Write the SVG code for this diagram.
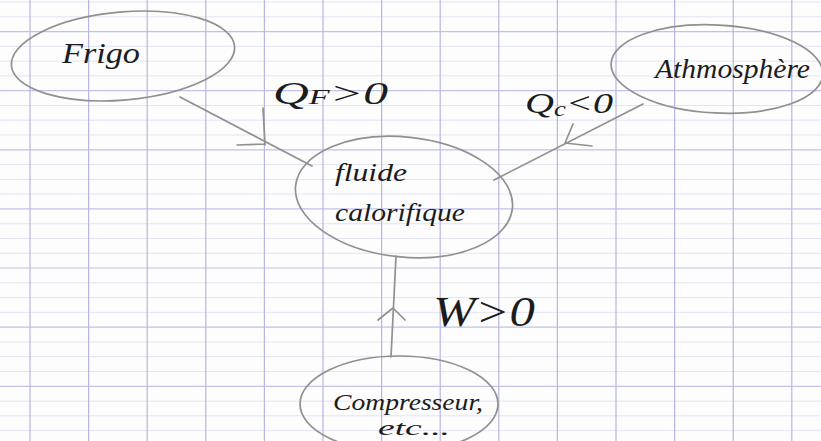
<svg xmlns="http://www.w3.org/2000/svg" width="821" height="441" viewBox="0 0 821 441">
<style>
.fine{stroke:#e3e3f3;stroke-width:1;fill:none}
.dark{stroke:#c2c2e7;stroke-width:1.2;fill:none}
.vert{stroke:#b6b6e2;stroke-width:1.2;fill:none}
.pencil{fill:none;stroke:#909090;stroke-width:1.7;stroke-linecap:round;stroke-linejoin:round}
.ink{font-family:"Liberation Serif","DejaVu Serif",serif;font-style:italic;fill:#1c1c1c}
</style>
<rect width="821" height="441" fill="#fdfdfe"/>
<g id="paper">
<path class="fine" d="M0 2H821M0 16.8H821M0 46.3H821M0 61.1H821M0 75.9H821M0 105.5H821M0 120.2H821M0 135H821M0 164.6H821M0 179.4H821M0 194.1H821M0 223.7H821M0 238.5H821M0 253.3H821M0 282.8H821M0 297.6H821M0 312.4H821M0 341.9H821M0 356.7H821M0 371.5H821M0 401.1H821M0 415.8H821M0 430.6H821"/>
<path class="dark" d="M0 31.6H821M0 90.7H821M0 149.8H821M0 208.9H821M0 268H821M0 327.2H821M0 386.3H821"/>
<path class="vert" d="M30 0V441M88.6 0V441M147.2 0V441M205.8 0V441M264.4 0V441M323 0V441M381.6 0V441M440.2 0V441M498.8 0V441M557.4 0V441M616 0V441M674.6 0V441M733.2 0V441M791.8 0V441"/>
</g>
<g id="connectors">
<g id="edge-frigo-fluide">
<path class="pencil" d="M180 97L312 166"/>
<path class="pencil" d="M263 108L265 145M237 145L265 144"/>
<text class="ink" x="273" y="104" font-size="32" textLength="115" lengthAdjust="spacingAndGlyphs">Q<tspan font-size="22">F</tspan>&gt;0</text>
</g>
<g id="edge-fluide-athmo">
<path class="pencil" d="M494 180L643 104"/>
<path class="pencil" d="M573 124L565 143L592 146"/>
<text class="ink" x="525" y="113" font-size="30" textLength="88" lengthAdjust="spacingAndGlyphs">Q<tspan font-size="20" dy="3">c</tspan><tspan dy="-3">&lt;0</tspan></text>
</g>
<g id="edge-comp-fluide">
<path class="pencil" d="M391 357L396 256"/>
<path class="pencil" d="M378 320L393 308L405 320"/>
<text class="ink" x="433" y="326" font-size="42" textLength="102" lengthAdjust="spacingAndGlyphs">W&gt;0</text>
</g>
</g>
<g id="node-frigo">
<ellipse class="pencil" cx="123" cy="56" rx="112" ry="44" transform="rotate(-5 123 56)"/>
<text class="ink" x="62" y="63" font-size="30" textLength="78" lengthAdjust="spacingAndGlyphs">Frigo</text>
</g>
<g id="node-fluide">
<ellipse class="pencil" cx="404" cy="197" rx="109" ry="60" transform="rotate(6 404 197)"/>
<text class="ink" x="335" y="181" font-size="26" textLength="72" lengthAdjust="spacingAndGlyphs">fluide</text>
<text class="ink" x="335" y="221" font-size="26" textLength="130" lengthAdjust="spacingAndGlyphs">calorifique</text>
</g>
<g id="node-athmo">
<ellipse class="pencil" cx="717" cy="69" rx="106" ry="44" transform="rotate(3 717 69)"/>
<text class="ink" x="655" y="78" font-size="28" textLength="155" lengthAdjust="spacingAndGlyphs">Athmosphère</text>
</g>
<g id="node-comp">
<ellipse class="pencil" cx="399" cy="404" rx="99" ry="48"/>
<text class="ink" x="333" y="410" font-size="23" textLength="150" lengthAdjust="spacingAndGlyphs">Compresseur,</text>
<text class="ink" x="378" y="435" font-size="21" textLength="72" lengthAdjust="spacingAndGlyphs">etc...</text>
</g>
</svg>
